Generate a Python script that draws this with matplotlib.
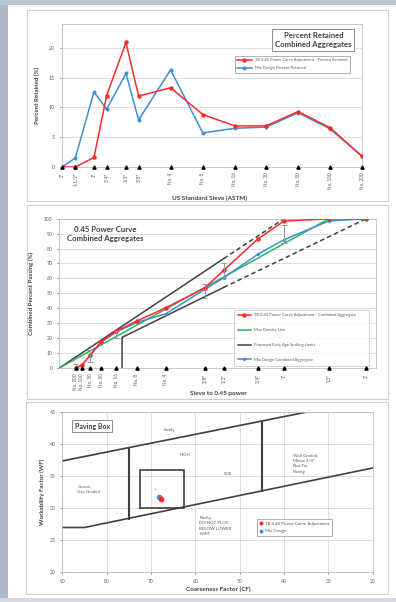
import numpy as np
import matplotlib
matplotlib.use("Agg")
import matplotlib.pyplot as plt
from matplotlib.patches import Rectangle

plt.rcParams['font.family'] = ['Lato', 'DejaVu Sans']

W, H = 396, 602

# ---------------- data ----------------
sieve_labels = ['2"', '1-1/2"', '1"', '3/4"', '1/2"', '3/8"', 'No. 4', 'No. 8',
                'No. 16', 'No. 30', 'No. 50', 'No. 100', 'No. 200']
power_labels = ['2"', '1.5"', '1"', '3/4"', '1/2"', '3/8"', 'No. 4', 'No. 8',
                'No. 16', 'No. 30', 'No. 50', 'No. 100', 'No. 200']
sieve_mm = [50, 37.5, 25, 19, 12.5, 9.5, 4.75, 2.36, 1.18, 0.6, 0.3, 0.15, 0.075]

tb_retained = [0, 0, 1.6, 12.0, 20.9, 11.9, 13.3, 8.8, 6.9, 6.9, 9.3, 6.6, 1.8]
mix_retained = [0, 1.5, 12.6, 9.7, 15.7, 7.9, 16.3, 5.7, 6.5, 6.7, 9.1, 6.4, 1.8]

tb_passing = [100, 100, 98.4, 86.4, 65.5, 53.6, 40.3, 31.5, 24.6, 17.7, 8.4, 1.8, 0.0]
mix_passing = [100, 98.5, 85.9, 76.2, 60.5, 52.6, 36.3, 30.6, 24.1, 17.4, 8.3, 1.9, 0.1]

density_mm = [0, 37.5]
density_pct = [0, 100]

upper_solid_mm, upper_solid_pct = [0, 12.5], [0, 73.3]
upper_dash_mm, upper_dash_pct = [12.5, 25], [73.3, 100]
lower_solid_mm, lower_solid_pct = [1.47, 1.47, 12.5], [0, 20.5, 54]
lower_dash_mm, lower_dash_pct = [12.5, 50], [54, 100]

band_mm = [0.075, 0.3, 1.18, 9.5, 12.5, 25]
band_low = [0, 4, 20, 47, 61, 84]
band_high = [3, 12, 25, 56, 70, 96]

# Paving box (coarseness factor vs workability factor)
upper_cf, upper_wf = [90, 20], [37.4, 47.1]
lower_cf, lower_wf = [90, 85, 20], [27, 27, 36.3]
div_cf, div_low, div_high = [75, 45], [28.4, 32.7], [39.5, 43.6]
box_cf, box_wf = [72.5, 62.5], [30.0, 36.0]
tb_cf, tb_wf = [67.7], [31.5]
mix_cf, mix_wf = [68.2], [31.8]

RED = '#ff2b2b'
BLUE = '#3d8fd1'
GREEN = '#2fb45a'
DARK = '#404040'
GRID = '#d9d9d9'
TXT = '#595959'

fig = plt.figure(figsize=(W / 100, H / 100), dpi=100, facecolor='white')


def px_axes(l, t, r, b):
    ax = fig.add_axes([l / W, 1 - b / H, (r - l) / W, (b - t) / H])
    ax.set_zorder(2)
    return ax


def px_rect(l, t, r, b, **kw):
    fig.patches.append(Rectangle((l / W, 1 - b / H), (r - l) / W, (b - t) / H,
                                 transform=fig.transFigure, zorder=-10, **kw))


def px_text(x, y, s, **kw):
    fig.text(x / W, 1 - y / H, s, **kw)


# page background strips
px_rect(0, 0, 8, H, facecolor='#aeb9c9', edgecolor='none')
px_rect(0, 0, W, 5, facecolor='#bcc5d2', edgecolor='none')
px_rect(0, 598, W, H, facecolor='#d5dae2', edgecolor='none')

# chart frames
for (l, t, r, b) in [(27, 10, 388, 201), (27, 205, 388, 399), (26, 402, 388, 594)]:
    px_rect(l, t, r, b, facecolor='none', edgecolor='#d0d0d0', lw=0.8)


def style(ax):
    for s in ax.spines.values():
        s.set_color('#bfbfbf')
        s.set_linewidth(0.6)
    ax.tick_params(colors=TXT, labelsize=3.8, length=1.5, width=0.5)
    ax.set_axisbelow(True)


# ---------------- panel 1: percent retained ----------------
ax1 = px_axes(62, 24, 362, 167)
style(ax1)
ax1.set_xscale('log')
ax1.set_xlim(50, 0.075)
ax1.set_ylim(0, 24)
ax1.set_yticks([0, 5, 10, 15, 20])
ax1.yaxis.grid(True, color=GRID, lw=0.6)
ax1.set_xticks(sieve_mm)
ax1.set_xticklabels(sieve_labels, rotation=90, fontsize=3.3)
ax1.xaxis.set_minor_locator(matplotlib.ticker.NullLocator())
ax1.tick_params(axis='x', length=0, pad=4)
ax1.plot(sieve_mm, tb_retained, '-o', color=RED, lw=1.1, ms=2.2,
         label='TB 0.45 Power Curve Adjustment - Percent Retained', zorder=4)
ax1.plot(sieve_mm, mix_retained, '-D', color=BLUE, lw=1.1, ms=1.6,
         label='Mix Design Percent Retained', zorder=3)
ax1.plot(sieve_mm, np.zeros(len(sieve_mm)), '^', color='black', ms=2.3,
         clip_on=False, zorder=5)
ax1.text(0.838, 0.888, 'Percent Retained\nCombined Aggregates', transform=ax1.transAxes,
         ha='center', va='center', fontsize=5.6, fontweight='bold', color=DARK,
         linespacing=1.3,
         bbox=dict(boxstyle='square,pad=0.35', fc='white', ec='#8c8c8c', lw=0.7))
lg1 = ax1.legend(loc='upper left', bbox_to_anchor=(0.57, 0.79), fontsize=2.9,
                 frameon=True, fancybox=False, edgecolor='#8c8c8c', handlelength=3.5,
                 borderpad=0.6, labelspacing=0.9)
lg1.get_frame().set_linewidth(0.6)
for t in lg1.get_texts():
    t.set_color(TXT)
px_text(209, 198, 'US Standard Sieve (ASTM)', ha='center', va='center',
        fontsize=4.6, fontweight='bold', color=DARK)
px_text(37, 95, 'Percent Retained (%)', ha='center', va='center', rotation=90,
        fontsize=4.4, fontweight='bold', color=DARK)

# ---------------- panel 2: 0.45 power curve ----------------
def pw(v):
    return np.asarray(v, dtype=float) ** 0.45


ax2 = px_axes(59.3, 218.7, 376, 368)
style(ax2)
ax2.set_xlim(0, 6)
ax2.set_ylim(0, 100)
ax2.set_yticks(np.arange(0, 101, 10))
ax2.yaxis.grid(True, color=GRID, lw=0.6)
ax2.set_xticks(pw(sieve_mm))
ax2.set_xticklabels(power_labels, rotation=90, fontsize=3.3)
ax2.tick_params(axis='x', length=0, pad=4)
ax2.tick_params(axis='y', labelsize=3.6)

ax2.plot(pw(upper_solid_mm), upper_solid_pct, color=DARK, lw=1.1, zorder=2,
         label='Proposed Early Age Spalling Limits')
ax2.plot(pw(upper_dash_mm), upper_dash_pct, color=DARK, lw=1.1, ls=(0, (3, 2)), zorder=2)
ax2.plot(pw(lower_solid_mm), lower_solid_pct, color=DARK, lw=1.1, zorder=2)
ax2.plot(pw(lower_dash_mm), lower_dash_pct, color=DARK, lw=1.1, ls=(0, (3, 2)), zorder=2)
ax2.plot(pw(density_mm), density_pct, color=GREEN, lw=1.1, zorder=3,
         label='Max Density Line')
ax2.plot(pw(sieve_mm), mix_passing, '-', color=BLUE, lw=1.1, marker='D', ms=1.2,
         zorder=4, label='Mix Design Combined Aggregate')
ax2.plot(pw(sieve_mm), tb_passing, '-o', color=RED, lw=1.1, ms=2.2, zorder=5,
         label='TB 0.45 Power Curve Adjustment - Combined Aggregate')
ax2.vlines(pw(band_mm), band_low, band_high, color='#9a9a9a', lw=0.7, zorder=6)
ax2.hlines(band_low, pw(band_mm) - 0.05, pw(band_mm) + 0.05, color='#9a9a9a', lw=0.7, zorder=6)
ax2.hlines(band_high, pw(band_mm) - 0.05, pw(band_mm) + 0.05, color='#9a9a9a', lw=0.7, zorder=6)
ax2.plot(pw(sieve_mm), np.zeros(len(sieve_mm)), '^', color='black', ms=2.3,
         clip_on=False, zorder=7)
ax2.text(0.145, 0.895, '0.45 Power Curve\nCombined Aggregates', transform=ax2.transAxes,
         ha='center', va='center', fontsize=5.6, fontweight='bold', color=DARK,
         linespacing=1.35)
h, l = ax2.get_legend_handles_labels()
order = [3, 1, 0, 2]
lg2 = ax2.legend([h[i] for i in order], [l[i] for i in order], loc='upper left',
                 bbox_to_anchor=(0.545, 0.05, 0.44, 0.355), mode='expand',
                 fontsize=3.0, frameon=True, fancybox=False, edgecolor='#bfbfbf',
                 handlelength=3.2, borderpad=0.9, labelspacing=2.6)
lg2.get_frame().set_linewidth(0.6)
for t in lg2.get_texts():
    t.set_color(TXT)
px_text(218, 393, 'Sieve to 0.45 power', ha='center', va='center',
        fontsize=4.6, fontweight='bold', color=DARK)
px_text(31, 293, 'Combined Percent Passing (%)', ha='center', va='center', rotation=90,
        fontsize=4.4, fontweight='bold', color=DARK)

# ---------------- panel 3: paving box ----------------
ax3 = px_axes(62.3, 412.3, 372.7, 572.3)
style(ax3)
ax3.set_xlim(90, 20)
ax3.set_ylim(20, 45)
ax3.set_xticks(np.arange(90, 19, -10))
ax3.set_yticks(np.arange(20, 46, 5))
ax3.xaxis.set_minor_locator(matplotlib.ticker.MultipleLocator(2))
ax3.yaxis.set_minor_locator(matplotlib.ticker.MultipleLocator(1))
ax3.tick_params(which='minor', length=1, width=0.4, colors='#bfbfbf')
ax3.grid(True, which='major', color=GRID, lw=0.6)
ax3.tick_params(labelsize=3.6)

ax3.plot(upper_cf, upper_wf, color=DARK, lw=1.2)
ax3.plot(lower_cf, lower_wf, color=DARK, lw=1.2)
for c, lo, hi in zip(div_cf, div_low, div_high):
    ax3.plot([c, c], [lo, hi], color=DARK, lw=1.5)
ax3.plot([box_cf[0], box_cf[1], box_cf[1], box_cf[0], box_cf[0]],
         [box_wf[0], box_wf[0], box_wf[1], box_wf[1], box_wf[0]], color=DARK, lw=1.2)
ax3.plot(mix_cf, mix_wf, 'o', color=BLUE, ms=3.0, zorder=5, label='Mix Design')
ax3.plot(tb_cf, tb_wf, 'o', color=RED, ms=3.2, zorder=6,
         label='TB 0.45 Power Curve Adjustment')

zone_kw = dict(fontsize=3.2, color=TXT, linespacing=1.5)
ax3.text(65.7, 42.3, 'Sandy', ha='center', va='center', **zone_kw)
ax3.text(62.3, 38.3, 'HIGH', ha='center', va='center', **zone_kw)
ax3.text(52.7, 35.4, 'SDE', ha='center', va='center', **zone_kw)
ax3.text(69.0, 33.0, '+', ha='center', va='center', fontsize=3.2, color=TXT)
ax3.text(86.6, 33.0, 'Coarse,\nGap Graded', ha='left', va='center', **zone_kw)
ax3.text(59.1, 27.2, 'Rocky,\nDO NOT PLOT\nBELOW LOWER\nLIMIT', ha='left', va='center', **zone_kw)
ax3.text(38.0, 37.0, 'Well Graded,\nMinus 3/4",\nNot For\nPaving', ha='left', va='center', **zone_kw)
ax3.text(0.097, 0.913, 'Paving Box', transform=ax3.transAxes, ha='center', va='center',
         fontsize=5.0, fontweight='bold', color=DARK,
         bbox=dict(boxstyle='square,pad=0.35', fc='white', ec='#8c8c8c', lw=0.7))
h, l = ax3.get_legend_handles_labels()
lg3 = ax3.legend([h[1], h[0]], [l[1], l[0]], loc='upper left',
                 bbox_to_anchor=(0.621, 0.348), fontsize=3.2, frameon=True,
                 fancybox=False, edgecolor='#8c8c8c', handlelength=0.6,
                 markerscale=0.6, borderpad=0.6, labelspacing=0.8, handletextpad=0.5)
lg3.get_frame().set_linewidth(0.6)
for t in lg3.get_texts():
    t.set_color(TXT)
px_text(218, 589, 'Coarseness Factor (CF)', ha='center', va='center',
        fontsize=4.6, fontweight='bold', color=DARK)
px_text(42, 492, 'Workability Factor (WF)', ha='center', va='center', rotation=90,
        fontsize=4.4, fontweight='bold', color=DARK)

fig.savefig('out.png', dpi=100, facecolor='white')
